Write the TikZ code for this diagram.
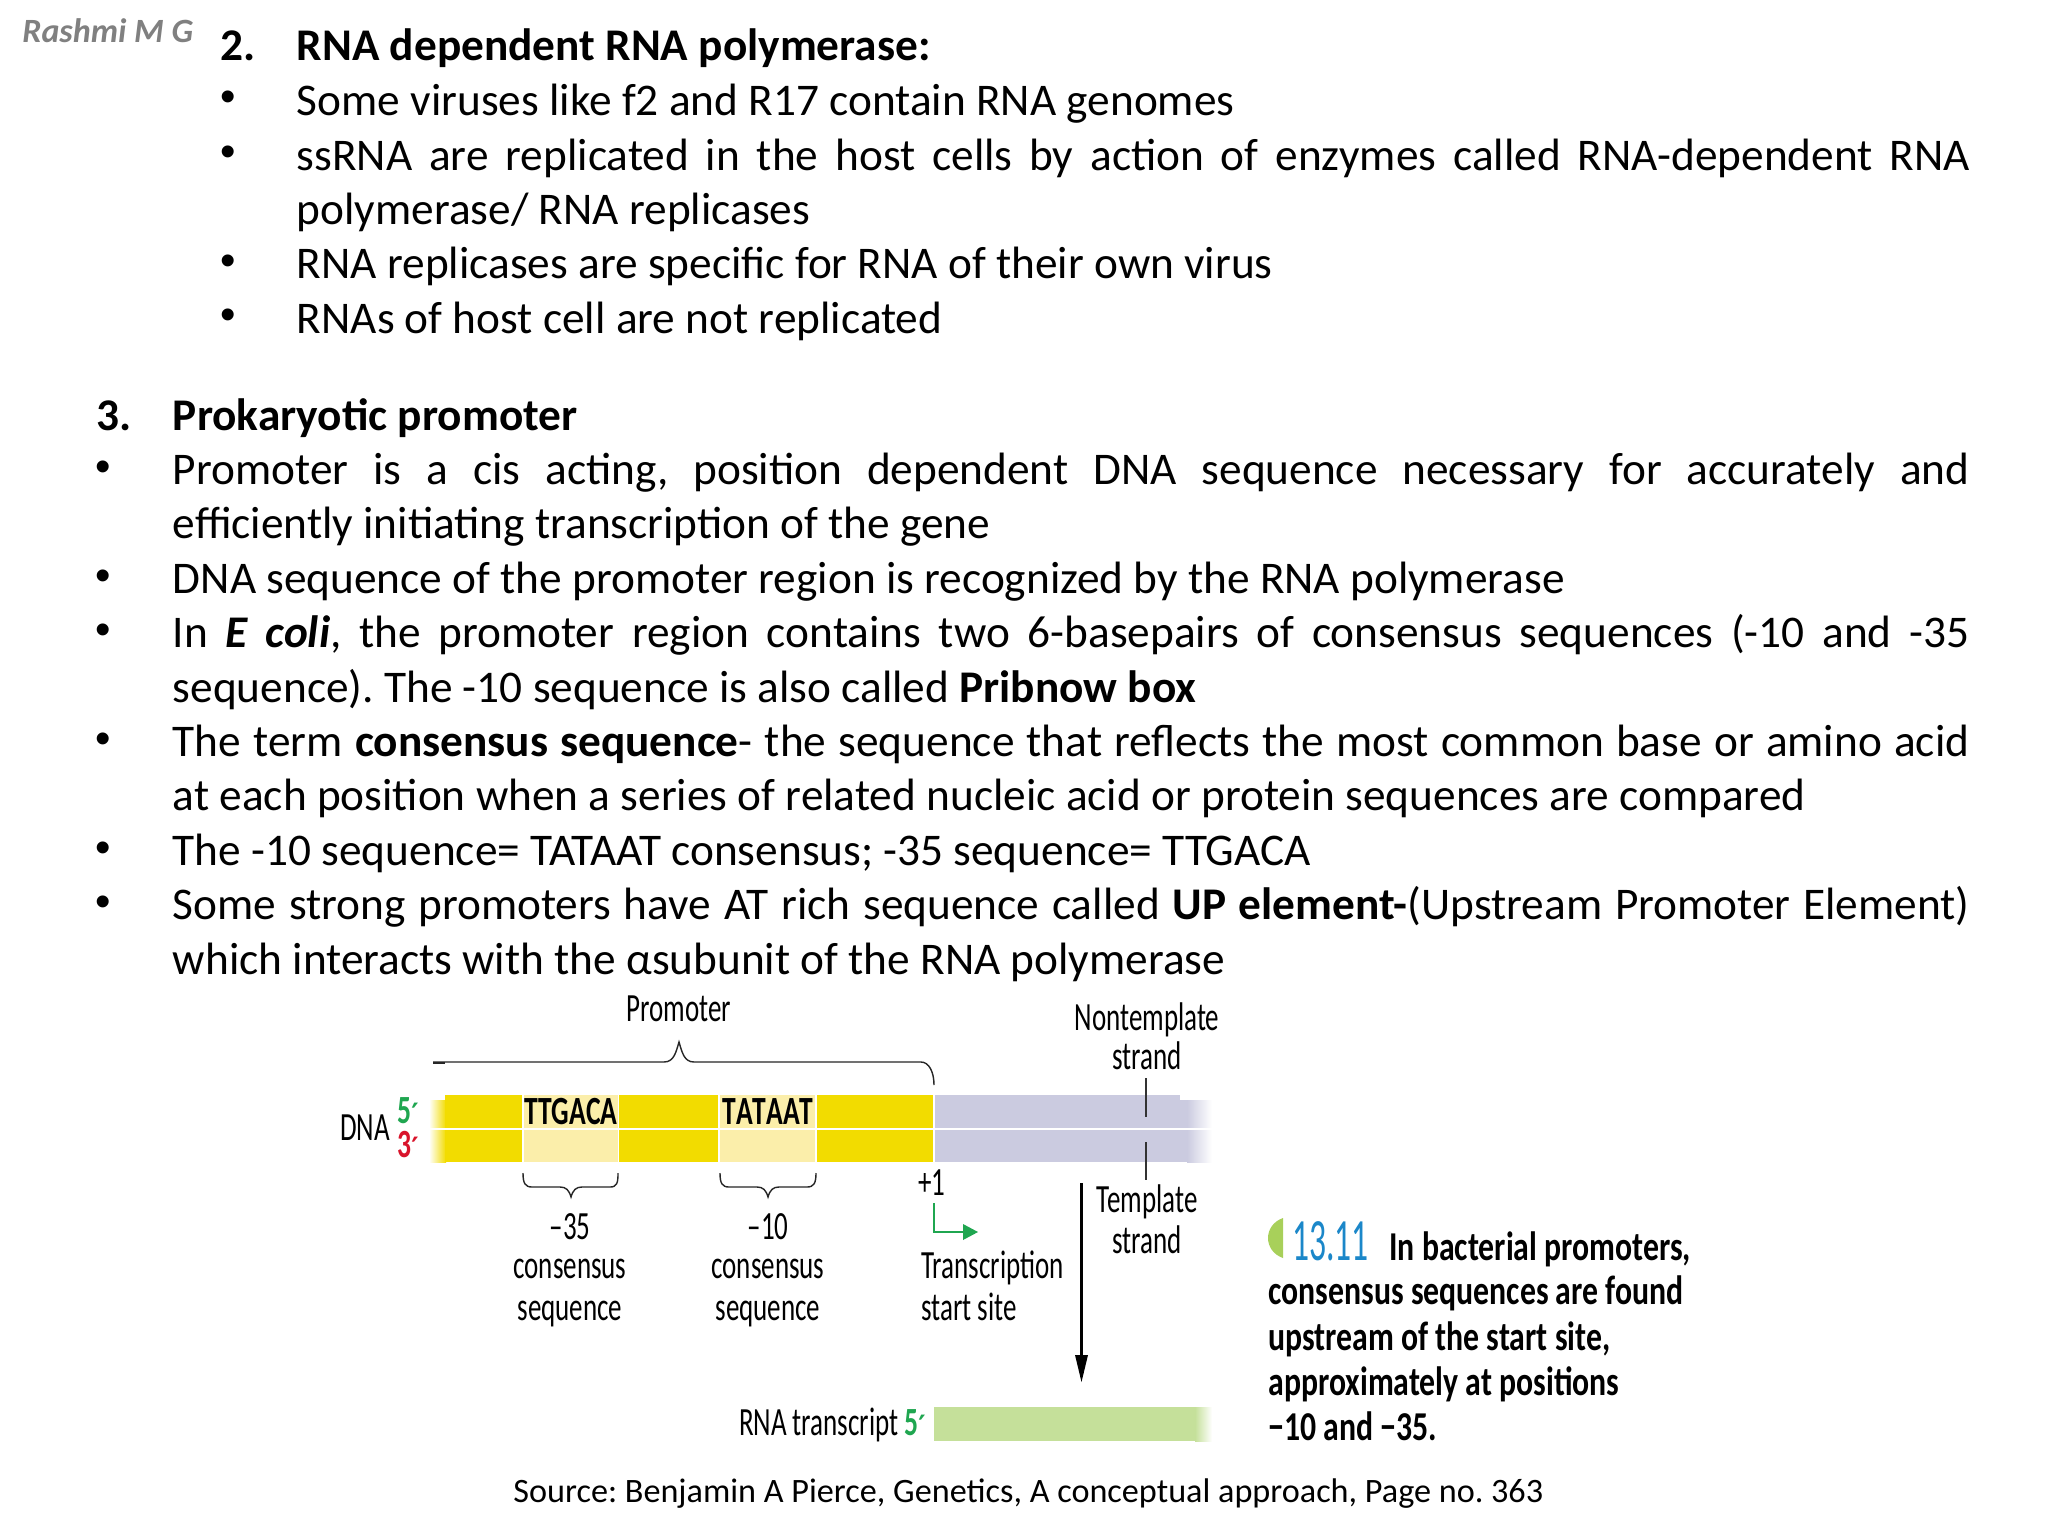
\documentclass[tikz,border=0pt]{standalone}
\usepackage{fontspec}
\setmainfont{Carlito}
\newfontfamily\condf[FakeStretch=0.675]{Carlito}
\newfontfamily\seqf[FakeStretch=0.69,Kerning=Off]{Carlito}
\newfontfamily\figf[FakeStretch=0.775]{Carlito}
\newfontfamily\numf[FakeStretch=0.56]{Carlito}
\newfontfamily\bulf{Liberation Sans}
\newfontfamily\primef{DejaVu Sans}
\newcommand{\prm}{{\primef\bfseries\fontsize{14}{14}\selectfont ′}}
\definecolor{yelbar}{HTML}{F2DC00}
\definecolor{yelpale}{HTML}{FBEEAA}
\definecolor{greybar}{HTML}{CBCBE0}
\definecolor{rnabar}{HTML}{C5E09A}
\definecolor{gprime}{HTML}{1FA650}
\definecolor{rprime}{HTML}{D9142B}
\definecolor{numblue}{HTML}{1B87C9}
\definecolor{moon}{HTML}{A8D05A}
\newcommand{\jla}[1]{\makebox[836.5pt][s]{#1}}
\newcommand{\jlb}[1]{\makebox[898.25pt][s]{#1}}
\tikzset{
  x=0.5pt,y=-0.5pt,
  body/.style={anchor=base west,inner sep=0pt,yshift=-0.5pt,font=\frenchspacing\fontsize{22.66}{26}\selectfont},
  bul/.style={anchor=base,inner sep=0pt,font=\bulf\fontsize{22}{26}\selectfont},
  lbl/.style={anchor=base,inner sep=0pt,font=\condf\fontsize{20}{22}\selectfont},
  lbll/.style={lbl,anchor=base west},
  seq/.style={anchor=base,inner sep=0pt,font=\seqf\bfseries\fontsize{20}{22}\selectfont},
  fig/.style={anchor=base west,inner sep=0pt,font=\figf\bfseries\fontsize{20.5}{22}\selectfont},
  thinl/.style={line width=0.55pt,black!80},
  brace/.style={line width=0.7pt,black!85},
}
\begin{document}
\begin{tikzpicture}
\path[use as bounding box,fill=white] (0,0) rectangle (2048,1536);
% header
\node[anchor=base west,inner sep=0pt,font=\fontsize{17}{18}\selectfont\bfseries\itshape,text=black!50] (author) at (22,43) {Rashmi M G};
\node[body] (n2) at (220,60) {\bfseries 2.};
\node[body] (l1) at (296.5,60) {\bfseries RNA dependent RNA polymerase:};
\node[bul] (b1) at (228,112) {•};
\node[body] (l2) at (296.5,114.5) {Some viruses like f2 and R17 contain RNA genomes};
\node[bul] (b2) at (228,166) {•};
\node[body] (l3) at (296.5,169) {\jla{ssRNA are replicated in the host cells by action of enzymes called RNA-dependent RNA}};
\node[body] (l4) at (296.5,223) {polymerase/ RNA replicases};
\node[bul] (b3) at (228,275) {•};
\node[body] (l5) at (296.5,277.7) {RNA replicases are specific for RNA of their own virus};
\node[bul] (b4) at (228,329.5) {•};
\node[body] (l6) at (296.5,332) {RNAs of host cell are not replicated};
% section 3
\node[body] (n3) at (96,429) {\bfseries 3.};
\node[body] (m1) at (172.5,429) {\bfseries Prokaryotic promoter};
\node[bul] (c1) at (103,481) {•};
\node[body] (m2) at (172.5,483.4) {\jlb{Promoter is a cis acting, position dependent DNA sequence necessary for accurately and}};
\node[body] (m3) at (172.5,537.8) {efficiently initiating transcription of the gene};
\node[bul] (c2) at (103,590) {•};
\node[body] (m4) at (172.5,592.2) {DNA sequence of the promoter region is recognized by the RNA polymerase};
\node[bul] (c3) at (103,644) {•};
\node[body] (m5) at (172.5,646.6) {\jlb{In \textbf{\textit{E coli}}, the promoter region contains two 6-basepairs of consensus sequences (-10 and -35}};
\node[body] (m6) at (172.5,701) {sequence). The -10 sequence is also called \textbf{Pribnow box}};
\node[bul] (c4) at (103,753) {•};
\node[body] (m7) at (172.5,755.4) {\jlb{The term \textbf{consensus sequence}- the sequence that reflects the most common base or amino acid}};
\node[body] (m8) at (172.5,809.8) {at each position when a series of related nucleic acid or protein sequences are compared};
\node[bul] (c5) at (103,862) {•};
\node[body] (m9) at (172.5,864.2) {The -10 sequence= TATAAT consensus; -35 sequence= TTGACA};
\node[bul] (c6) at (103,916) {•};
\node[body] (m10) at (172.5,918.6) {\jlb{Some strong promoters have AT rich sequence called \textbf{UP element-}(Upstream Promoter Element)}};
\node[body] (m11) at (172.5,973) {which interacts with the αsubunit of the RNA polymerase};
% DNA bar
\shade[left color=white,right color=yelbar] (429,1100) rectangle (446,1162);
\fill[yelbar] (445,1095) rectangle (934,1162);
\fill[yelpale] (523,1095) rectangle (618.5,1162);
\fill[yelpale] (719,1095) rectangle (816,1162);
\fill[greybar] (934,1095) rectangle (1180,1162);
\fill[greybar] (1180,1100) rectangle (1187,1162);
\shade[left color=greybar,right color=white] (1187,1100) rectangle (1212,1162);
\draw[white,line width=0.8pt] (429,1129) -- (1212,1129);
\foreach \xx in {523,618.5,719,816,934} \draw[white,line width=0.6pt] (\xx,1095) -- (\xx,1162);
% promoter brace
\draw[brace] (433,1062) -- (664,1062) .. controls (674,1062) and (676,1052) .. (679,1042) .. controls (682,1052) and (684,1062) .. (694,1062) -- (921,1062) .. controls (929,1062) and (934,1072) .. (934,1085);
\draw[line width=1.2pt,black!85] (433,1063) -- (445,1063);
% small braces
\draw[brace] (523,1173) .. controls (523,1183) and (525,1187) .. (532,1187) -- (560,1187) .. controls (566,1187) and (569,1190) .. (571,1197) .. controls (573,1190) and (576,1187) .. (582,1187) -- (610,1187) .. controls (617,1187) and (618,1183) .. (618,1173);
\draw[brace] (720,1173) .. controls (720,1183) and (722,1187) .. (729,1187) -- (757,1187) .. controls (763,1187) and (766,1190) .. (768,1197) .. controls (770,1190) and (773,1187) .. (779,1187) -- (807,1187) .. controls (814,1187) and (816,1183) .. (816,1173);
% labels
\node[lbl] (prom) at (679,1021) {Promoter};
\node[lbl] (dna) at (365,1140) {DNA};
\node[seq,text=gprime] (p5) at (408,1123) {5\prm};
\node[seq,text=rprime] (p3) at (408,1157) {3\prm};
\node[seq] (s35) at (571,1124) {TTGACA};
\node[seq] (s10) at (768,1124) {TATAAT};
\node[lbl] (t35a) at (570,1239) {–35};
\node[lbl] (t35b) at (570,1278) {consensus};
\node[lbl] (t35c) at (570,1320) {sequence};
\node[lbl] (t10a) at (768,1239) {–10};
\node[lbl] (t10b) at (768,1278) {consensus};
\node[lbl] (t10c) at (768,1320) {sequence};
\node[lbl] (plus) at (932,1195) {+1};
\node[lbll] (ts1) at (921,1278) {Transcription};
\node[lbll] (ts2) at (921,1320) {start site};
\node[lbl] (nt1) at (1147,1030) {Nontemplate};
\node[lbl] (nt2) at (1147,1069) {strand};
\node[lbl] (te1) at (1147,1212) {Template};
\node[lbl] (te2) at (1147,1253) {strand};
\draw[thinl] (1146,1078) -- (1146,1117);
\draw[thinl] (1146,1142) -- (1146,1180);
% green start arrow
\draw[gprime,line width=1.3pt] (934,1203) -- (934,1232) -- (966,1232);
\fill[gprime] (963,1224) -- (978,1232) -- (963,1240) -- cycle;
% black arrow
\draw[black,line width=1.4pt] (1081.5,1183) -- (1081.5,1360);
\fill[black] (1075,1355) -- (1081.5,1382) -- (1088,1355) -- cycle;
% RNA
\fill[rnabar] (934,1407) rectangle (1195,1441);
\shade[left color=rnabar,right color=white] (1195,1407) rectangle (1212,1441);
\node[lbl,anchor=base east] (rna) at (899,1435) {RNA transcript};
\node[seq,text=gprime] (p5b) at (915,1435) {5\prm};
% figure caption
\fill[moon] (1283,1218) .. controls (1263,1225) and (1263,1251) .. (1283,1258) -- cycle;
\node[anchor=base west,inner sep=0pt,font=\numf\fontsize{30}{32}\selectfont,text=numblue] (fnum) at (1292,1260) {13.11};
\node[fig] (f1) at (1389,1260) {In bacterial promoters,};
\node[fig] (f2) at (1268,1304) {consensus sequences are found};
\node[fig] (f3) at (1268,1350) {upstream of the start site,};
\node[fig] (f4) at (1268,1395) {approximately at positions};
\node[fig] (f5) at (1268,1440) {−10 and −35.};
% source
\node[anchor=base west,inner sep=0pt,font=\frenchspacing\fontsize{17.1}{20}\selectfont] (src) at (513,1502) {Source: Benjamin A Pierce, Genetics, A conceptual approach, Page no. 363};
\end{tikzpicture}
\end{document}
